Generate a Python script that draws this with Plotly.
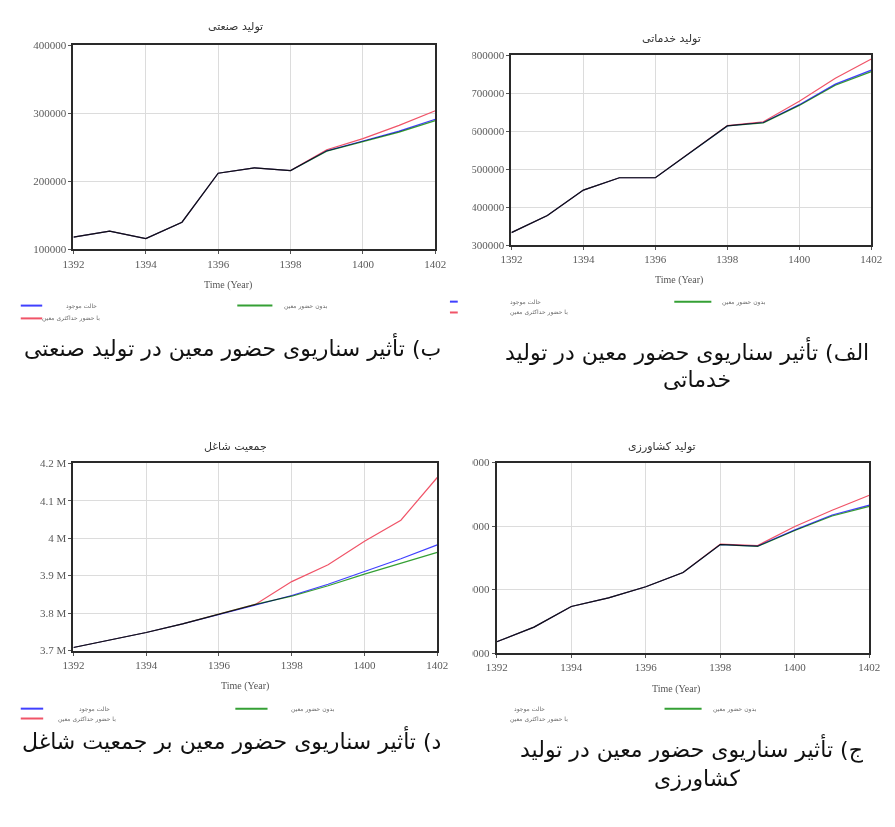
import plotly.graph_objects as go

W, H = 895, 827

years = list(range(1392, 1403))

series_names = ["حالت موجود", "بدون حضور معین", "با حضور حداکثری معین"]
series_colors = ["#4040ff", "#35a035", "#f05468"]

# تولید صنعتی
ind_base = [118000, 127000, 116000, 140000, 212000, 220000, 216000, 245000, 259500, 274000, 291500]
ind_none = [118000, 127000, 116000, 140000, 212000, 220000, 216000, 244500, 258500, 272500, 289500]
ind_max = [118000, 127000, 116000, 140000, 212000, 220000, 216000, 246500, 263000, 282500, 304000]

# تولید خدماتی
srv_base = [333000, 378000, 445000, 477500, 477500, 546000, 614000, 623000, 670000, 724000, 761000]
srv_none = [333000, 378000, 445000, 477500, 477500, 546000, 614000, 622000, 668000, 721000, 757000]
srv_max = [333000, 378000, 445000, 477500, 477500, 546000, 615000, 625000, 679000, 739500, 790000]

# جمعیت شاغل
emp_base = [3708000, 3727000, 3748000, 3771000, 3796000, 3823000, 3847000, 3877000, 3910000, 3945000, 3982000]
emp_none = [3708000, 3727000, 3748000, 3771000, 3796000, 3823000, 3845000, 3873000, 3904000, 3933000, 3962000]
emp_max = [3708000, 3727000, 3748000, 3771000, 3796000, 3823000, 3884000, 3929000, 3992000, 4048000, 4162000]

# تولید کشاورزی
agr_base = [118000, 141000, 173500, 187000, 204500, 227000, 271000, 268500, 294000, 317500, 333000]
agr_none = [118000, 141000, 173500, 187000, 204500, 227000, 271000, 268000, 293000, 316000, 331000]
agr_max = [118000, 141000, 173500, 187000, 204500, 227000, 271500, 269500, 299500, 325000, 348500]

x_ticks = [1392, 1394, 1396, 1398, 1400, 1402]

ind_ticks = [100000, 200000, 300000, 400000]
srv_ticks = [300000, 400000, 500000, 600000, 700000, 800000]
emp_ticks = [3700000, 3800000, 3900000, 4000000, 4100000, 4200000]
emp_ticktext = ["3.7 M", "3.8 M", "3.9 M", "4 M", "4.1 M", "4.2 M"]
agr_ticks = [100000, 200000, 300000, 400000]

titles = ["تولید صنعتی", "تولید خدماتی", "جمعیت شاغل", "تولید کشاورزی"]
captions = {
    "b": "ب) تأثیر سناریوی حضور معین در تولید صنعتی",
    "alef1": "الف) تأثیر سناریوی حضور معین در تولید",
    "alef2": "خدماتی",
    "d": "د) تأثیر سناریوی حضور معین بر جمعیت شاغل",
    "j1": "ج) تأثیر سناریوی حضور معین در تولید",
    "j2": "کشاورزی",
}
x_title = "Time (Year)"


def px(x):
    return x / W


def py(y):
    return 1 - y / H


# panel boxes in pixels: (left, top, right, bottom)
panels = [
    dict(box=(64, 40, 435, 247), data=(ind_base, ind_none, ind_max),
         yr=(100000, 400000), tv=ind_ticks, tt=None),
    dict(box=(513, 50, 882, 242.7), data=(srv_base, srv_none, srv_max),
         yr=(300000, 800000), tv=srv_ticks, tt=None),
    dict(box=(64, 464, 437, 654), data=(emp_base, emp_none, emp_max),
         yr=(3700000, 4200000), tv=emp_ticks, tt=emp_ticktext),
    dict(box=(498, 463.3, 880, 656.7), data=(agr_base, agr_none, agr_max),
         yr=(100000, 400000), tv=agr_ticks, tt=None),
]

tick_font = dict(family="Liberation Serif", size=11, color="#5a5a5a")
fa_font = "DejaVu Sans"

fig = go.Figure()
layout = dict(
    width=W, height=H, autosize=False,
    margin=dict(l=0, r=0, t=0, b=0, pad=0),
    paper_bgcolor="white", plot_bgcolor="white",
    showlegend=False,
)

for i, p in enumerate(panels):
    n = i + 1
    xa = "xaxis" if n == 1 else f"xaxis{n}"
    ya = "yaxis" if n == 1 else f"yaxis{n}"
    xr = "x" if n == 1 else f"x{n}"
    yr_ = "y" if n == 1 else f"y{n}"
    l, t, r, b = p["box"]
    layout[xa] = dict(
        domain=[px(l), px(r)], anchor=yr_, range=[1392, 1402],
        tickvals=x_ticks, ticks="outside", ticklen=3, tickcolor="#555",
        showgrid=True, gridcolor="#dcdcdc", gridwidth=1,
        showline=True, linecolor="#2a2a2a", linewidth=2, mirror=True,
        tickfont=tick_font, zeroline=False, fixedrange=True,
    )
    ydict = dict(
        domain=[py(b), py(t)], anchor=xr, range=list(p["yr"]),
        tickvals=p["tv"], ticks="outside", ticklen=3, tickcolor="#555",
        showgrid=True, gridcolor="#dcdcdc", gridwidth=1,
        showline=True, linecolor="#2a2a2a", linewidth=2, mirror=True,
        tickfont=tick_font, zeroline=False, fixedrange=True, tickformat="d",
    )
    if p["tt"] is not None:
        ydict["ticktext"] = p["tt"]
    layout[ya] = ydict
    for vals, name, col in zip(p["data"], series_names, series_colors):
        fig.add_trace(go.Scatter(
            x=years, y=vals, mode="lines", name=name,
            line=dict(color=col, width=1.2), xaxis=xr, yaxis=yr_,
            hoverinfo="skip",
        ))

annotations = []


def text(x, y, s, size, family, color, xanchor="center"):
    annotations.append(dict(
        x=px(x), y=py(y), xref="paper", yref="paper", text=s, showarrow=False,
        xanchor=xanchor, yanchor="middle",
        font=dict(family=family, size=size, color=color),
    ))


# chart titles
text(230, 21, titles[0], 11, fa_font, "#333333")
text(677, 33, titles[1], 11, fa_font, "#333333")
text(230, 447, titles[2], 11, fa_font, "#333333")
text(667, 447, titles[3], 11, fa_font, "#333333")

# axis titles
for (x, y) in [(222, 283), (685, 278), (240, 690), (682, 693)]:
    text(x, y, x_title, 10, "Liberation Serif", "#555555")

shapes = []


def sample(x0, x1, y, col):
    shapes.append(dict(type="line", xref="paper", yref="paper",
                       x0=px(x0), x1=px(x1), y0=py(y), y1=py(y),
                       line=dict(color=col, width=2)))


leg_size = 6
leg_col = "#6a6a6a"

# legend, industrial chart
sample(10, 32, 304, series_colors[0])
sample(10, 32, 317, series_colors[2])
sample(232, 268, 304, series_colors[1])
text(90, 304, series_names[0], leg_size, fa_font, leg_col, "right")
text(93, 317, series_names[2], leg_size, fa_font, leg_col, "right")
text(278, 304, series_names[1], leg_size, fa_font, leg_col, "left")

# legend, services chart
sample(450, 458, 300, series_colors[0])
sample(450, 458, 311, series_colors[2])
sample(680, 718, 300, series_colors[1])
text(510, 300, series_names[0], leg_size, fa_font, leg_col, "left")
text(510, 311, series_names[2], leg_size, fa_font, leg_col, "left")
text(727, 300, series_names[1], leg_size, fa_font, leg_col, "left")

# legend, employment chart
sample(10, 33, 713, series_colors[0])
sample(10, 33, 723, series_colors[2])
sample(230, 263, 713, series_colors[1])
text(104, 713, series_names[0], leg_size, fa_font, leg_col, "right")
text(110, 723, series_names[2], leg_size, fa_font, leg_col, "right")
text(285, 713, series_names[1], leg_size, fa_font, leg_col, "left")

# legend, agriculture chart
sample(670, 708, 713, series_colors[1])
text(514, 713, series_names[0], leg_size, fa_font, leg_col, "left")
text(510, 723, series_names[2], leg_size, fa_font, leg_col, "left")
text(718, 713, series_names[1], leg_size, fa_font, leg_col, "left")

# figure captions
cap_size = 22
text(227, 346, captions["b"], cap_size, fa_font, "#111111")
text(693, 350, captions["alef1"], cap_size, fa_font, "#111111")
text(703, 379, captions["alef2"], cap_size, fa_font, "#111111")
text(226, 745, captions["d"], cap_size, fa_font, "#111111")
text(698, 753, captions["j1"], cap_size, fa_font, "#111111")
text(703, 784, captions["j2"], cap_size, fa_font, "#111111")

# the right-hand charts clip their value labels at the chart margin
for (y0, y1) in [(40, 252), (452, 666)]:
    shapes.append(dict(type="rect", xref="paper", yref="paper", layer="above",
                       x0=px(446), x1=px(473), y0=py(y1), y1=py(y0),
                       fillcolor="white", line=dict(width=0)))

layout["annotations"] = annotations
layout["shapes"] = shapes
fig.update_layout(**layout)

# overlapping series darken each other, as in the simulation plots
post = ("var s=document.createElement('style');"
        "s.textContent='.scatterlayer .trace{mix-blend-mode:multiply}';"
        "document.head.appendChild(s);")
fig.write_html("out.html", post_script=post, config={"displayModeBar": False})
